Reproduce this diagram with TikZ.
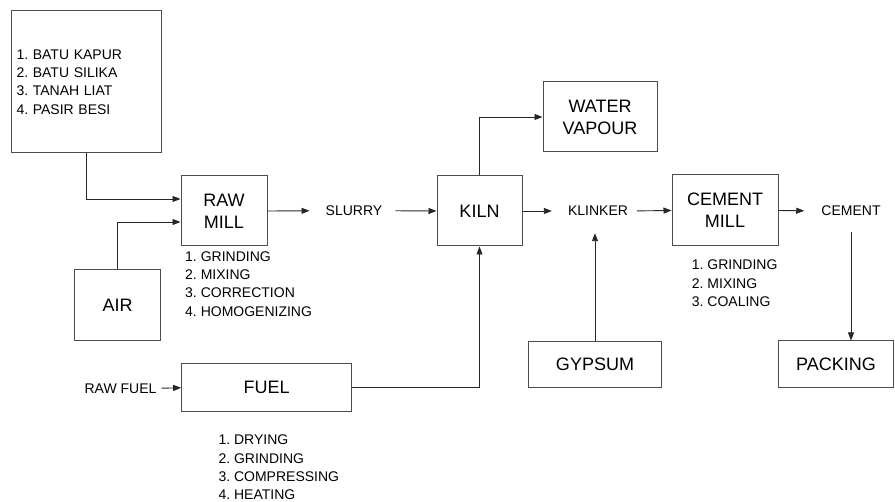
\documentclass[tikz,border=0pt]{standalone}
\usepackage{fontspec}
\setmainfont{Liberation Sans}
\usetikzlibrary{arrows.meta}
\frenchspacing
\begin{document}
\begin{tikzpicture}[x=1pt,y=-1pt,
  box/.style={draw=black!70, line width=1pt, inner sep=0pt, align=center, text=black,
    font=\fontsize{18}{22}\selectfont},
  lbl/.style={inner sep=0pt, text height=10pt, text depth=0pt, text=black,
    font=\fontsize{14}{18.3}\selectfont},
  lst/.style={inner sep=0pt, anchor=west, align=left, text=black,
    font=\fontsize{14}{18.3}\selectfont},
  arr/.style={draw=black!85, line width=0.9pt, -{Triangle[length=8pt,width=6pt]}}]
\useasboundingbox (0,0) rectangle (895,502);

% boxes
\node[box, minimum width=150pt, minimum height=142pt, text width=139pt, align=left,
  font=\fontsize{14}{18.3}\selectfont] (src) at (86,82)
  {1. BATU KAPUR\\2. BATU SILIKA\\3. TANAH LIAT\\4. PASIR BESI};
\node[box, minimum width=86pt, minimum height=70pt] (rawmill) at (224,211) {RAW\\MILL};
\node[box, minimum width=86pt, minimum height=71pt] (air) at (117.7,305.3) {AIR};
\node[box, minimum width=85pt, minimum height=70pt] (kiln) at (479.5,211) {KILN};
\node[box, minimum width=114pt, minimum height=70pt] (water) at (600,117) {WATER\\VAPOUR};
\node[box, minimum width=106pt, minimum height=71pt] (cmill) at (725,210.5) {CEMENT\\MILL};
\node[box, minimum width=115pt, minimum height=47pt] (packing) at (836,364.5) {PACKING};
\node[box, minimum width=133pt, minimum height=46pt] (gypsum) at (595,364.2) {GYPSUM};
\node[box, minimum width=170pt, minimum height=48pt] (fuel) at (266.7,387.8) {FUEL};

% labels
\node[lbl] (slurry) at (354,210.7) {SLURRY};
\node[lbl] (klinker) at (598,211) {KLINKER};
\node[lbl] (cement) at (851,211) {CEMENT};
\node[lbl] (rawfuel) at (120.5,388.3) {RAW FUEL};

% lists
\node[lst] (rmlist) at (185,284) {1. GRINDING\\2. MIXING\\3. CORRECTION\\4. HOMOGENIZING};
\node[lst] (cmlist) at (691.7,283.3) {1. GRINDING\\2. MIXING\\3. COALING};
\node[lst] (fulist) at (218.3,467.5) {1. DRYING\\2. GRINDING\\3. COMPRESSING\\4. HEATING};

% connectors
\draw[arr] (src.south) |- (rawmill.west |- 0,199);
\draw[arr] (air.north) |- (rawmill.west |- 0,222);
\draw[arr, shorten >=16pt] (rawmill.east) -- (slurry.west);
\draw[arr, shorten <=13pt] (slurry.east) -- (kiln.west);
\draw[arr] (kiln.north) |- (water.west);
\draw[arr, shorten >=16pt] (kiln.east) -- (klinker.west);
\draw[arr, shorten <=9pt] (klinker.east) -- (cmill.west);
\draw[arr, shorten >=17pt] (gypsum.north) -- (gypsum.north |- klinker.south);
\draw[arr, shorten >=17pt] (cmill.east) -- (cement.west);
\draw[arr, shorten <=15.7pt] (cement.south) -- (cement.south |- packing.north);
\draw[arr, shorten <=5pt] (rawfuel.east) -- (fuel.west);
\draw[arr] (fuel.east) -| (kiln.south);
\end{tikzpicture}
\end{document}
